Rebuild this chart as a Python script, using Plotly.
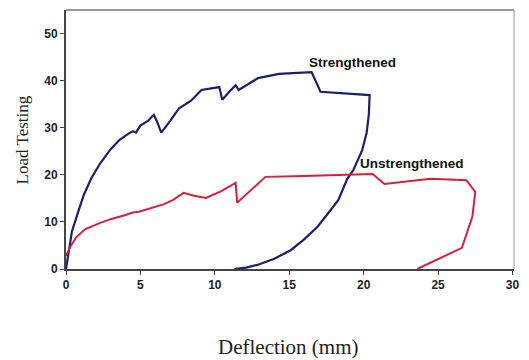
import plotly.graph_objects as go

# Strengthened beam: deflection (mm) and load
strengthened_x = [0, 0.15, 0.4, 0.8, 1.2, 1.7, 2.3, 3.0, 3.6, 4.2, 4.5, 4.7, 5.0, 5.5, 5.9, 6.1, 6.4,
                  7.0, 7.6, 8.4, 9.1, 10.3, 10.5, 11.0, 11.4, 11.6, 12.9, 14.3, 16.5, 17.1, 20.4,
                  20.35, 20.2, 19.9, 19.3, 18.9, 18.3, 17.6, 16.9, 16.0, 15.1, 14.0, 12.9, 12.1, 11.3]
strengthened_y = [0, 3.0, 8.0, 12.0, 15.8, 19.3, 22.5, 25.5, 27.5, 28.8, 29.3, 29.0, 30.5, 31.5, 32.8, 31.5, 29.0,
                  31.5, 34.2, 35.8, 38.1, 38.7, 36.0, 37.8, 39.1, 38.1, 40.6, 41.5, 41.9, 37.7, 37.0,
                  33.0, 29.0, 25.3, 21.0, 19.2, 14.7, 11.8, 9.0, 6.3, 4.0, 2.2, 0.9, 0.3, 0]

# Unstrengthened beam
unstrengthened_x = [0, 0.3, 0.7, 1.3, 2.3, 3.0, 4.0, 4.5, 4.9, 6.0, 6.6, 7.2, 7.9, 8.6, 9.4, 10.4, 11.4, 11.5,
                    12.5, 13.4, 16.0, 18.3, 20.6, 21.4, 24.5, 26.9, 27.5, 27.3, 26.6, 23.6]
unstrengthened_y = [2.8, 4.8, 6.8, 8.5, 9.8, 10.6, 11.5, 12.0, 12.2, 13.2, 13.8, 14.7, 16.2, 15.6, 15.1, 16.5, 18.3, 14.1,
                    17.0, 19.6, 19.8, 20.0, 20.2, 18.1, 19.2, 18.9, 16.4, 11.1, 4.5, 0]

x_ticks = [0, 5, 10, 15, 20, 25, 30]
y_ticks = [0, 10, 20, 30, 40, 50]

fig = go.Figure()
fig.add_trace(go.Scatter(x=strengthened_x, y=strengthened_y, mode="lines",
                         line=dict(color="#1c1f6b", width=2.2), name="Strengthened"))
fig.add_trace(go.Scatter(x=unstrengthened_x, y=unstrengthened_y, mode="lines",
                         line=dict(color="#d3213c", width=2), name="Unstrengthened"))

tickfont = dict(family="Liberation Sans", size=12, color="#222222")
fig.update_layout(
    width=529, height=360,
    margin=dict(l=66, r=11, t=10, b=91),
    paper_bgcolor="white", plot_bgcolor="white",
    showlegend=False,
    xaxis=dict(range=[0, 30.1], tickvals=x_ticks, ticktext=[f"<b>{v}</b>" for v in x_ticks],
               showgrid=False, zeroline=False, showline=True, linecolor="#444444", linewidth=2,
               ticks="outside", ticklen=4, tickcolor="#444444", tickfont=tickfont),
    yaxis=dict(range=[0, 55.1], tickvals=y_ticks, ticktext=[f"<b>{v}</b>" for v in y_ticks],
               showgrid=False, zeroline=False, showline=True, linecolor="#444444", linewidth=2,
               ticks="outside", ticklen=4, tickcolor="#444444", tickfont=tickfont),
    shapes=[
        dict(type="line", xref="paper", yref="paper", x0=0, x1=1, y0=1, y1=1,
             line=dict(color="#777777", width=1.5)),
        dict(type="line", xref="paper", yref="paper", x0=1, x1=1, y0=0, y1=1,
             line=dict(color="#999999", width=1)),
    ],
    annotations=[
        dict(x=16.2, y=44.0, xref="x", yref="y", text="<b>Strengthened</b>", showarrow=False,
             xanchor="left", yanchor="middle", font=dict(family="Liberation Sans", size=13.5, color="#111111")),
        dict(x=19.6, y=22.4, xref="x", yref="y", text="<b>Unstrengthened</b>", showarrow=False,
             xanchor="left", yanchor="middle", font=dict(family="Liberation Sans", size=13.5, color="#111111")),
        dict(x=22, y=140, xref="paper", yref="paper", text="Load Testing", showarrow=False,
             textangle=-90, font=dict(family="Liberation Serif", size=17, color="#222222")),
        dict(x=290, y=347, xref="paper", yref="paper", text="Deflection (mm)", showarrow=False,
             font=dict(family="Liberation Serif", size=21, color="#222222")),
    ],
)

# convert pixel-based positions of axis titles to paper coordinates
pw, ph = 529 - 66 - 11, 360 - 10 - 91
for a in fig.layout.annotations:
    if a.xref == "paper":
        px, py = a.x, a.y
        a.x = (px - 66) / pw
        a.y = (360 - 91 - py) / ph
        a.xanchor = "center"
        a.yanchor = "middle"

fig.write_html("out.html", config={"displayModeBar": False},
               post_script="document.body.style.margin='0';")
